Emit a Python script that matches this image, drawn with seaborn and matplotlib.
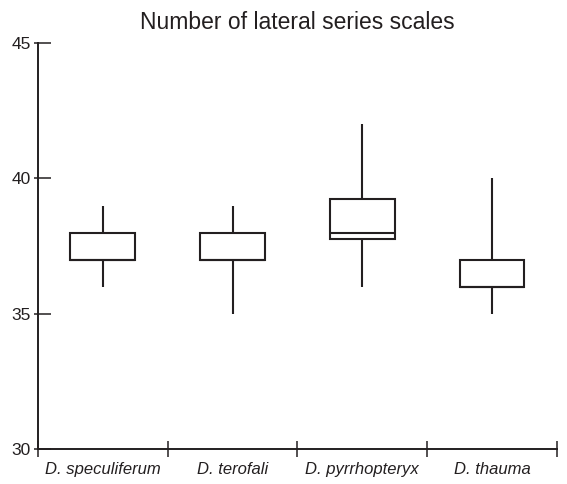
import matplotlib
matplotlib.use("Agg")
import matplotlib.pyplot as plt
import seaborn as sns
import pandas as pd
import numpy as np

species = ["D. speculiferum", "D. terofali", "D. pyrrhopteryx", "D. thauma"]
mins = [36, 35, 36, 35]
q1s = [37, 37, 37.75, 36]
medians = [37, 37, 38, 36]
q3s = [38, 38, 39.25, 37]
maxs = [39, 39, 42, 40]
yticks = [30, 35, 40, 45]

rows = []
for s, a, b, c, d, e in zip(species, mins, q1s, medians, q3s, maxs):
    for v in (a, b, c, d, e):
        rows.append({"species": s, "value": v})
df = pd.DataFrame(rows)

sns.set_theme(style="ticks")
plt.rcParams["font.family"] = ["Liberation Sans", "DejaVu Sans"]

fig = plt.figure(figsize=(5.67, 4.84), dpi=100)
ax = fig.add_axes([0.067, 0.072, 0.915, 0.839])

ec = "#231f20"
lw = 1.5
sns.boxplot(data=df, x="species", y="value", order=species, whis=(0, 100),
            width=0.5, color="white", linecolor=ec, linewidth=lw,
            showcaps=False, showfliers=False, ax=ax,
            boxprops=dict(facecolor="white", edgecolor=ec, linewidth=lw),
            whiskerprops=dict(color=ec, linewidth=lw),
            medianprops=dict(color=ec, linewidth=lw))

ax.set_xlim(-0.5, 3.5)
ax.set_ylim(30, 45)
ax.set_yticks(yticks)
ax.set_yticks(yticks, minor=True)
ax.yaxis.remove_overlapping_locs = False
ax.set_xticks(range(4))
ax.set_xticklabels(species, fontstyle="italic", fontsize=12)
ax.set_xticks([-0.5, 0.5, 1.5, 2.5, 3.5], minor=True)
ax.tick_params(axis="x", which="major", bottom=True, length=0, pad=9)
ax.tick_params(axis="x", which="minor", bottom=True, direction="inout", length=11, width=1.1, color=ec)
ax.tick_params(axis="y", which="major", left=True, direction="in", length=9, width=1.1, color=ec, pad=5, labelsize=12.5)
ax.tick_params(axis="y", which="minor", left=True, direction="out", length=3, width=1.1, color=ec, labelleft=False)
ax.set_xlabel("")
ax.set_ylabel("")
for sp in ["top", "right"]:
    ax.spines[sp].set_visible(False)
for sp in ["left", "bottom"]:
    ax.spines[sp].set_color(ec)
    ax.spines[sp].set_linewidth(1.4)
ax.set_title("Number of lateral series scales", fontsize=16.5, pad=10, color="#231f20")
for t in ax.get_xticklabels() + ax.get_yticklabels():
    t.set_color("#231f20")

fig.savefig("out.png", dpi=100)
